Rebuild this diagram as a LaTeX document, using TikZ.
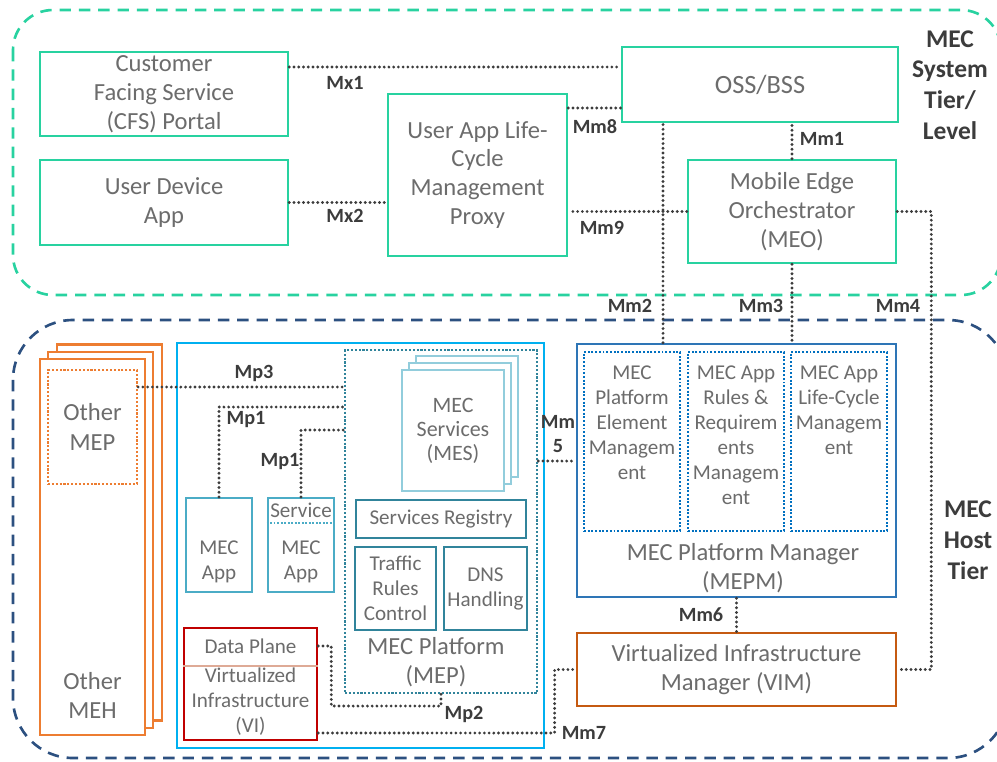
\documentclass[tikz,border=0pt]{standalone}
\usepackage{fontspec}
\setmainfont{Carlito}
\usepackage{tikz}
\definecolor{tiergreen}{RGB}{40,210,160}
\definecolor{tiernavy}{RGB}{44,80,128}
\definecolor{hostcyan}{RGB}{0,176,240}
\definecolor{mepteal}{RGB}{49,132,155}
\definecolor{appaqua}{RGB}{75,172,198}
\definecolor{mesblue}{RGB}{146,205,220}
\definecolor{mepmblue}{RGB}{46,117,182}
\definecolor{subblue}{RGB}{0,112,192}
\definecolor{vimbrown}{RGB}{197,90,17}
\definecolor{mehorange}{RGB}{237,125,49}
\definecolor{vired}{RGB}{192,0,0}
\definecolor{dpline}{RGB}{222,170,150}
\definecolor{boxtext}{RGB}{108,108,108}
\definecolor{lbltext}{RGB}{60,60,60}
\tikzset{
  box/.style = {align=center, inner sep=0pt, text=boxtext, fill=white},
  sysbox/.style = {box, draw=tiergreen, line width=1.5pt,
    font=\fontsize{14}{16.5}\selectfont},% system tier boxes
  tierframe/.style = {line width=1.5pt, rounded corners=0.8cm,
    dash pattern=on 6.5pt off 4.5pt},% dashed tier outline
  hostbox/.style = {draw=hostcyan, line width=1.1pt},
  mepframe/.style = {draw=mepteal, line width=1.4pt,
    dash pattern=on 1.2pt off 1pt},
  mesbox/.style = {box, draw=mesblue, line width=1.2pt,
    minimum width=2.04cm, minimum height=2.42cm},
  tealbox/.style = {box, draw=mepteal, line width=1.6pt,
    font=\fontsize{12}{14.2}\selectfont},
  appbox/.style = {box, draw=appaqua, line width=1.2pt,
    minimum width=1.33cm, minimum height=1.88cm},
  smalltxt/.style = {align=center, inner sep=0pt, text=boxtext,
    font=\fontsize{12}{14.2}\selectfont},
  bigtxt/.style = {align=center, inner sep=0pt, text=boxtext,
    font=\fontsize{14}{16.5}\selectfont},
  mehbox/.style = {box, draw=mehorange, line width=1.2pt,
    minimum width=2.10cm, minimum height=7.52cm},% other host, stacked
  omepbox/.style = {box, draw=mehorange, line width=1.3pt,
    dash pattern=on 1.2pt off 1pt, minimum width=1.78cm,
    minimum height=2.28cm, font=\fontsize{14}{17}\selectfont},
  vibox/.style = {box, draw=vired, line width=1.5pt,
    minimum width=2.66cm, minimum height=2.24cm},
  mepmbox/.style = {box, draw=mepmblue, line width=1.4pt},
  subbox/.style = {draw=subblue, line width=1.3pt, inner sep=0pt,
    dash pattern=on 1.1pt off 1pt, minimum width=1.92cm, minimum height=3.58cm},
  vimbox/.style = {box, draw=vimbrown, line width=1.6pt,
    font=\fontsize{14}{17}\selectfont},
  link/.style = {draw=lbltext, line width=1.8pt, line cap=round,
    dash pattern=on 0pt off 2.7pt},% reference point
  lbl/.style = {inner sep=0pt, text=lbltext, align=center,
    font=\bfseries\fontsize{11.5}{13.5}\selectfont},
  tierlbl/.style = {inner sep=0pt, text=lbltext, align=center,
    font=\bfseries\fontsize{14.5}{17.5}\selectfont}
}

\begin{document}
\begin{tikzpicture}[x=0.02cm, y=-0.02cm]
  \useasboundingbox (0,0) rectangle (997,761);
  % tiers
  \draw[tierframe, draw=tiergreen] (13,10) rectangle (1001,295);
  \draw[tierframe, draw=tiernavy, rounded corners=1.2cm] (13,320) rectangle (1008,758);
  \node[tierlbl] (systier) at (950,85) {MEC\\System\\Tier/\\Level};
  \node[tierlbl] (hosttier) at (968,540) {MEC\\Host\\Tier};

  % system level
  \node[sysbox, minimum width=4.96cm, minimum height=1.68cm] (cfs) at (164,94)
    {Customer\\Facing Service\\(CFS) Portal};
  \node[sysbox, minimum width=4.96cm, minimum height=1.70cm] (uda) at (164,202.5)
    {User Device\\App};
  \node[sysbox, minimum width=3.58cm, minimum height=3.24cm] (proxy) at (477.5,175)
    {User App Life-\\Cycle\\Management\\Proxy};
  \node[sysbox, minimum width=5.52cm, minimum height=1.50cm,
    font=\fontsize{15}{17}\selectfont] (oss) at (760,84.5) {OSS/BSS};
  \node[sysbox, minimum width=4.16cm, minimum height=2.06cm] (meo) at (792,211.5)
    {Mobile Edge\\Orchestrator\\(MEO)};

  % other hosts
  \node[mehbox] (meh3) at (109.5,532.5) {};
  \node[mehbox] (meh2) at (100.5,540) {};
  \node[mehbox] (meh1) at (92.5,547) {};
  \node[omepbox] (omep) at (92.5,427) {Other\\MEP};
  \node[bigtxt] (omeh) at (92.5,695) {Other\\MEH};

  % mec host
  \node[hostbox, minimum width=7.34cm, minimum height=8.10cm] (host) at (360.5,545.5) {};
  \node[mepframe, minimum width=3.84cm, minimum height=6.86cm] (mep) at (441,521.5) {};
  \node[bigtxt] (meptxt) at (436,662) {MEC Platform\\(MEP)};
  \node[mesbox] (mes3) at (467,416.5) {};
  \node[mesbox] (mes2) at (460,423.5) {};
  \node[mesbox, font=\fontsize{12.5}{13.7}\selectfont] (mes1) at (453,430.5)
    {MEC\\Services\\(MES)};
  \node[tealbox, minimum width=3.40cm, minimum height=0.76cm] (reg) at (441,519)
    {Services Registry};
  \node[tealbox, minimum width=1.62cm, minimum height=1.66cm] (trc) at (395.5,588.5)
    {Traffic\\Rules\\Control};
  \node[tealbox, minimum width=1.66cm, minimum height=1.66cm] (dns) at (485.5,588.5)
    {DNS\\Handling};
  \node[appbox] (app1) at (219,545) {};
  \node[smalltxt] (app1t) at (219,562) {MEC\\App};
  \node[appbox] (app2) at (301,545) {};
  \node[smalltxt] (svc) at (301,510) {Service};
  \draw[draw=appaqua, line width=1.2pt, dash pattern=on 1pt off 1pt]
    ([yshift=0.44cm]app2.west) -- ([yshift=0.44cm]app2.east);
  \node[smalltxt] (app2t) at (301,562) {MEC\\App};
  \node[vibox] (vi) at (250.5,684) {};
  \node[smalltxt] (dplane) at (250.5,646) {Data Plane};
  \draw[dpline, line width=1pt] ([yshift=0.36cm]vi.west) -- ([yshift=0.36cm]vi.east);
  \node[smalltxt] (vitxt) at (250.5,702) {Virtualized\\Infrastructure\\(VI)};

  % management
  \node[mepmbox, minimum width=6.38cm, minimum height=5.06cm] (mepm) at (736.5,470.5) {};
  \node[subbox] (sub1) at (632,441.5) {};
  \node[subbox] (sub2) at (736,441.5) {};
  \node[subbox] (sub3) at (839,441.5) {};
  \node[smalltxt, anchor=north] (sub1t) at ([yshift=-0.3cm]sub1.north)
    {MEC\\Platform\\Element\\Managem\\ent};
  \node[smalltxt, anchor=north] (sub2t) at ([yshift=-0.3cm]sub2.north)
    {MEC App\\Rules \&\\Requirem\\ents\\Managem\\ent};
  \node[smalltxt, anchor=north] (sub3t) at ([yshift=-0.3cm]sub3.north)
    {MEC App\\Life-Cycle\\Managem\\ent};
  \node[bigtxt] (mepmtxt) at (743,568) {MEC Platform Manager\\(MEPM)};
  \node[vimbox, minimum width=6.38cm, minimum height=1.46cm] (vim) at (736.5,669.5)
    {Virtualized Infrastructure\\Manager (VIM)};

  % reference points
  \draw[link] ([yshift=0.54cm]cfs.east) coordinate (mx1) -- (mx1 -| oss.west);
  \draw[link] (uda.east) -- (uda.east -| proxy.west);
  \draw[link] ([yshift=1.34cm]proxy.east) coordinate (mm8) -- (mm8 -| oss.west);
  \draw[link] (meo.west) -- (meo.west -| proxy.east);
  \draw[link] (meo.north) -- (meo.north |- oss.south);
  \draw[link] ([xshift=-1.47cm]mepm.north) coordinate (mm2) -- (mm2 |- oss.south);
  \draw[link] (meo.south) -- (meo.south |- mepm.north);
  \draw[link] (meo.east) -- ++(34,0) |- (vim.east);
  \draw[link] ([yshift=0.8cm]omep.east) coordinate (mp3) -- (mp3 -| mep.west);
  \draw[link] (app1.north) |- ([yshift=2.29cm]mep.west);
  \draw[link] (app2.north) |- ([yshift=1.83cm]mep.west);
  \draw[link] ([yshift=0.76cm]vi.east) -- ++(13,0) -- ++(0,60) -| (mep.south);
  \draw[link] ([yshift=1.21cm]mep.east) coordinate (mm5) -- (mm5 -| mepm.west);
  \draw[link] (mepm.south) -- (vim.north);
  \draw[link] ([yshift=-0.98cm]vi.east) -| ([xshift=-0.42cm]vim.west) -- (vim.west);

  \node[lbl] (lmx1) at (345,83) {Mx1};
  \node[lbl] (lmx2) at (345,216) {Mx2};
  \node[lbl] (lmm8) at (595,127) {Mm8};
  \node[lbl] (lmm9) at (602,228) {Mm9};
  \node[lbl] (lmm1) at (822,139) {Mm1};
  \node[lbl] (lmm2) at (630,306) {Mm2};
  \node[lbl] (lmm3) at (761,306) {Mm3};
  \node[lbl] (lmm4) at (898,306) {Mm4};
  \node[lbl] (lmp3) at (254,373) {Mp3};
  \node[lbl] (lmp1a) at (246,420) {Mp1};
  \node[lbl] (lmp1b) at (280,462) {Mp1};
  \node[lbl] (lmp2) at (464,714) {Mp2};
  \node[lbl] (lmm5) at (558,434) {Mm\\5};
  \node[lbl] (lmm6) at (701,615) {Mm6};
  \node[lbl] (lmm7) at (584,733) {Mm7};
\end{tikzpicture}
\end{document}
